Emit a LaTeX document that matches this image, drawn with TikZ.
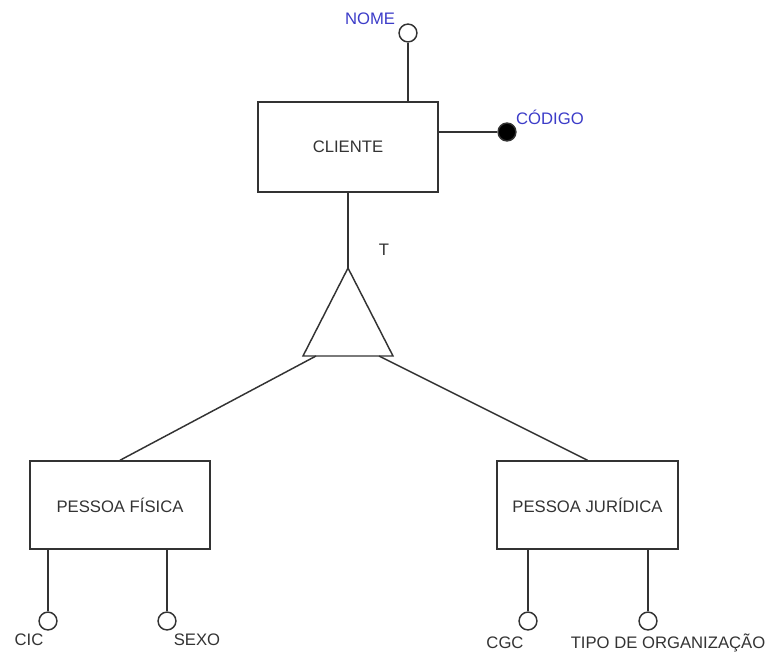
\documentclass[tikz,border=0pt]{standalone}
\usepackage{fontspec}
\setmainfont{Liberation Sans}
\begin{document}
\begin{tikzpicture}[x=0.75pt,y=-0.75pt,
  line width=1.1pt,
  every node/.style={font=\fontsize{12.5}{14}\selectfont, text=black!80},
  entity/.style={draw=black!80, rectangle, inner sep=0pt},
  attr/.style={draw=black!80, circle, fill=white, minimum size=13.4pt, inner sep=0pt},
  keyattr/.style={attr, fill=black},
  conn/.style={draw=black!80},
  bluelbl/.style={text={rgb,255:red,60;green,60;blue,200}}
]
\useasboundingbox (0,0) rectangle (772,657);

% entities
\node[entity, minimum width=135pt, minimum height=67.5pt] (cliente) at (348,147) {CLIENTE};
\node[entity, minimum width=135pt, minimum height=66pt] (pf) at (120,505) {PESSOA FÍSICA};
\node[entity, minimum width=135.75pt, minimum height=66pt] (pj) at (587.5,505) {PESSOA JURÍDICA};

% generalization triangle
\coordinate (tapex) at (348,268);
\coordinate (tbl) at (303,356);
\coordinate (tbr) at (393,356);
\coordinate (tl) at (316,356);
\coordinate (tr) at (379,356);
\draw[conn, line join=miter] (tapex) -- (tbl) -- (tbr) -- cycle;
\node (tlbl) at (384,250) {T};

\draw[conn] (cliente.south) -- (tapex);
\draw[conn] (tl) -- (pf.north);
\draw[conn] (tr) -- (pj.north);

% attributes of CLIENTE
\node[attr] (nome) at (408,33) {};
\node[keyattr] (codigo) at (507,132) {};
\draw[conn] (nome) -- (nome |- cliente.north);
\draw[conn] (codigo -| cliente.east) -- (codigo);
\node[bluelbl] (nomelbl) at (370,19) {NOME};
\node[bluelbl] (codigolbl) at (550,117) {CÓDIGO};

% attributes of PESSOA FÍSICA
\node[attr] (cic) at (48,621) {};
\node[attr] (sexo) at (167,621) {};
\draw[conn] (cic |- pf.south) -- (cic);
\draw[conn] (sexo |- pf.south) -- (sexo);
\node (ciclbl) at (29,640) {CIC};
\node (sexolbl) at (197,640) {SEXO};

% attributes of PESSOA JURÍDICA
\node[attr] (cgc) at (528,621) {};
\node[attr] (tipo) at (648,621) {};
\draw[conn] (cgc |- pj.south) -- (cgc);
\draw[conn] (tipo |- pj.south) -- (tipo);
\node (cgclbl) at (505,643) {CGC};
\node (tipolbl) at (668,643) {TIPO DE ORGANIZAÇÃO};
\end{tikzpicture}
\end{document}
